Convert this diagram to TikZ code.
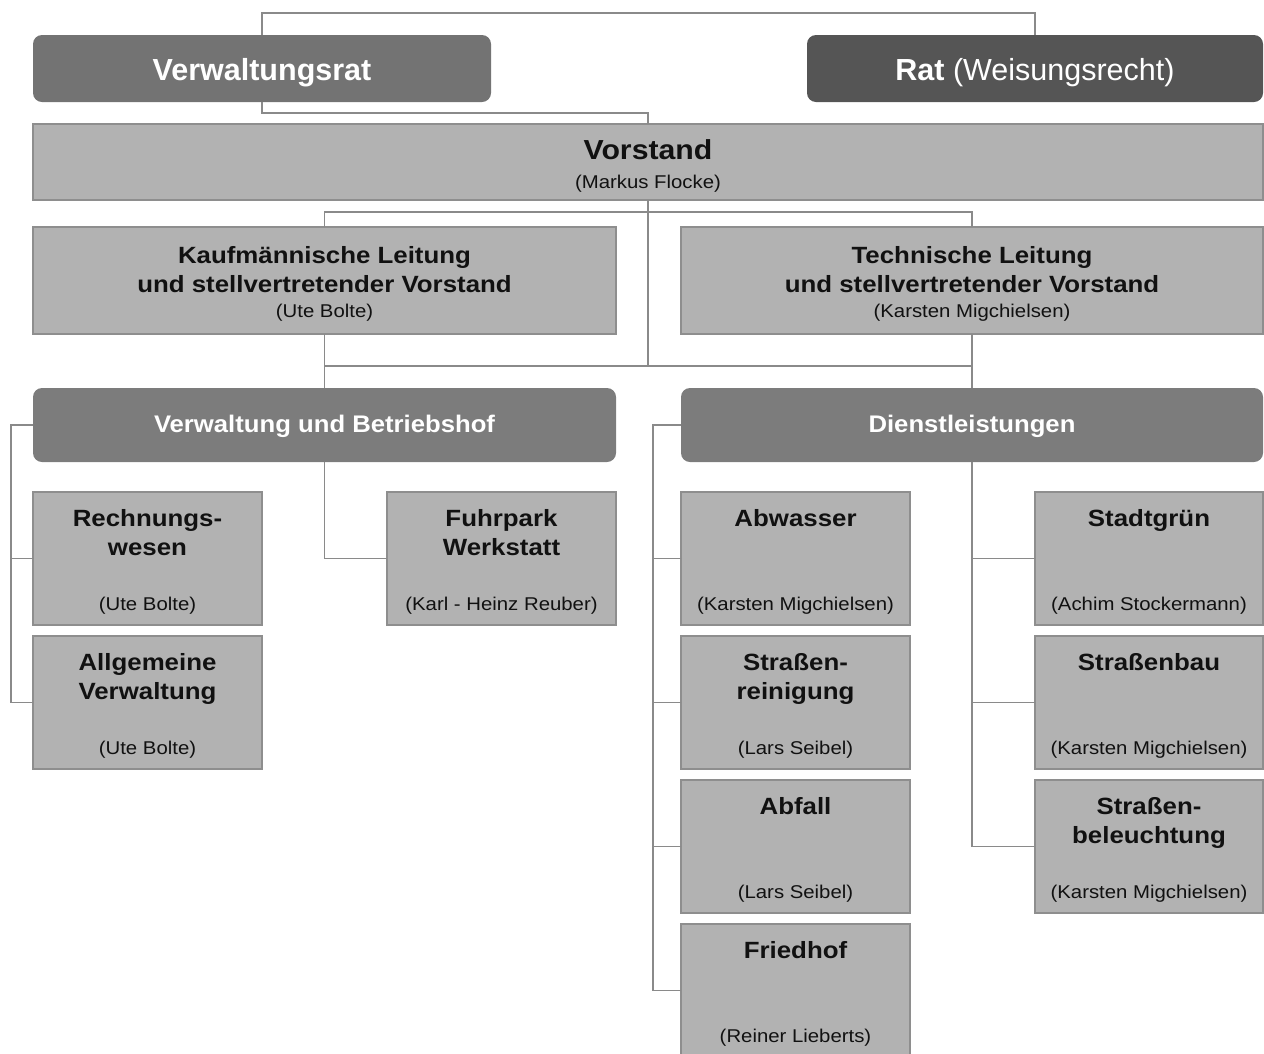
\documentclass[tikz,border=0pt]{standalone}
\usepackage{fontspec}
\setmainfont{Liberation Sans}
\newfontfamily\widefam[FakeStretch=1.10]{Liberation Sans}
\newfontfamily\midfam[FakeStretch=1.07]{Liberation Sans}
\definecolor{boxgray}{HTML}{B2B2B2}
\definecolor{boxline}{HTML}{8E8E8E}
\definecolor{vrgray}{HTML}{737373}
\definecolor{ratgray}{HTML}{555555}
\definecolor{unitgray}{HTML}{7C7C7C}
\definecolor{conngray}{HTML}{8A8A8A}
\definecolor{ink}{HTML}{111111}
\tikzset{
  box/.style={rectangle, draw=boxline, line width=1.3pt, fill=boxgray, anchor=north west, inner sep=0pt, outer sep=0pt},
  dbox/.style={rectangle, rounded corners=9pt, fill=#1, anchor=north west, inner sep=0pt, outer sep=0pt},
  conn/.style={draw=conngray, line width=1.6pt},
  ttl/.style={anchor=base, inner sep=0pt, text=ink, font=\widefam\bfseries\fontsize{23.5}{28}\selectfont},
  bigttl/.style={anchor=base, inner sep=0pt, text=ink, font=\widefam\bfseries\fontsize{27.5}{32}\selectfont},
  nm/.style={anchor=base, inner sep=0pt, text=ink, font=\widefam\fontsize{18.5}{22}\selectfont},
  hdr/.style={anchor=base, inner sep=0pt, text=white, font=\fontsize{30.5}{36}\selectfont},
  unitttl/.style={anchor=base, inner sep=0pt, text=white, font=\midfam\bfseries\fontsize{24}{28}\selectfont}
}
\newcommand{\orgunit}[7]{%
  \node[box, minimum width=#4, minimum height=133] (#1) at (#2,#3) {};
  \node[ttl] (#1-a) at ([yshift=-34pt]#1.north) {#5};
  \if\relax\detokenize{#6}\relax\else
    \node[ttl] (#1-b) at ([yshift=-63.5pt]#1.north) {#6};
  \fi
  \node[nm] (#1-n) at ([yshift=-118pt]#1.north) {#7};
}
\begin{document}
\begin{tikzpicture}[x=1pt,y=-1pt]
\useasboundingbox (0,0) rectangle (1264,1053);
\clip (0,0) rectangle (1264,1053);

% top level
\node[dbox=vrgray, minimum width=458, minimum height=67] (vr) at (33,35) {};
\node[hdr] (vr-t) at ([yshift=-45pt]vr.north) {\bfseries Verwaltungsrat};
\node[dbox=ratgray, minimum width=456, minimum height=67] (rat) at (807,35) {};
\node[hdr] (rat-t) at ([yshift=-45pt]rat.north) {\textbf{Rat} (Weisungsrecht)};

\node[box, minimum width=1230, minimum height=76] (vs) at (33,124) {};
\node[bigttl] (vs-t) at ([yshift=-35pt]vs.north) {Vorstand};
\node[nm] (vs-n) at ([yshift=-64pt]vs.north) {(Markus Flocke)};

% deputies
\node[box, minimum width=583, minimum height=107] (kl) at (33,227) {};
\node[ttl] (kl-a) at ([yshift=-36pt]kl.north) {Kaufmännische Leitung};
\node[ttl] (kl-b) at ([yshift=-65pt]kl.north) {und stellvertretender Vorstand};
\node[nm] (kl-n) at ([yshift=-90pt]kl.north) {(Ute Bolte)};

\node[box, minimum width=582, minimum height=107] (tl) at (681,227) {};
\node[ttl] (tl-a) at ([yshift=-36pt]tl.north) {Technische Leitung};
\node[ttl] (tl-b) at ([yshift=-65pt]tl.north) {und stellvertretender Vorstand};
\node[nm] (tl-n) at ([yshift=-90pt]tl.north) {(Karsten Migchielsen)};

% departments
\node[dbox=unitgray, minimum width=583, minimum height=74] (vub) at (33,388) {};
\node[unitttl] (vub-t) at ([yshift=-44pt]vub.north) {Verwaltung und Betriebshof};
\node[dbox=unitgray, minimum width=582, minimum height=74] (dl) at (681,388) {};
\node[unitttl] (dl-t) at ([yshift=-44pt]dl.north) {Dienstleistungen};

% units
\orgunit{rw}{33}{492}{229}{Rechnungs-}{wesen}{(Ute Bolte)}
\orgunit{av}{33}{636}{229}{Allgemeine}{Verwaltung}{(Ute Bolte)}
\orgunit{fp}{387}{492}{229}{Fuhrpark}{Werkstatt}{(Karl - Heinz Reuber)}
\orgunit{aw}{681}{492}{229}{Abwasser}{}{(Karsten Migchielsen)}
\orgunit{sr}{681}{636}{229}{Straßen-}{reinigung}{(Lars Seibel)}
\orgunit{af}{681}{780}{229}{Abfall}{}{(Lars Seibel)}
\orgunit{fh}{681}{924}{229}{Friedhof}{}{(Reiner Lieberts)}
\orgunit{sg}{1035}{492}{228}{Stadtgrün}{}{(Achim Stockermann)}
\orgunit{sbau}{1035}{636}{228}{Straßenbau}{}{(Karsten Migchielsen)}
\orgunit{sl}{1035}{780}{228}{Straßen-}{beleuchtung}{(Karsten Migchielsen)}

% connectors
\draw[conn] (vr.north) -- ++(0,-22) -| (rat.north);
\draw[conn] (vr.south) -- ++(0,11) -| (vs.north);
\draw[conn] (kl.north) -- ++(0,-15) -| (tl.north);
\draw[conn] (vs.south) -- (vs.south |- 0,366);
\draw[conn] (kl.south) -- (vub.north);
\draw[conn] (tl.south) -- (dl.north);
\draw[conn] (kl.south |- 0,366) -- (tl.south |- 0,366);

\draw[conn] (vub.west) -| ([xshift=-22pt]av.west) -- (av.west);
\draw[conn] (rw.west) -- ++(-22,0);
\draw[conn] (vub.south) |- (fp.west);

\draw[conn] (dl.west) -| ([xshift=-28pt]fh.west) -- (fh.west);
\draw[conn] (aw.west) -- ++(-28,0);
\draw[conn] (sr.west) -- ++(-28,0);
\draw[conn] (af.west) -- ++(-28,0);

\draw[conn] (dl.south) |- (sl.west);
\draw[conn] (sg.west) -- ++(-63,0);
\draw[conn] (sbau.west) -- ++(-63,0);
\end{tikzpicture}
\end{document}
